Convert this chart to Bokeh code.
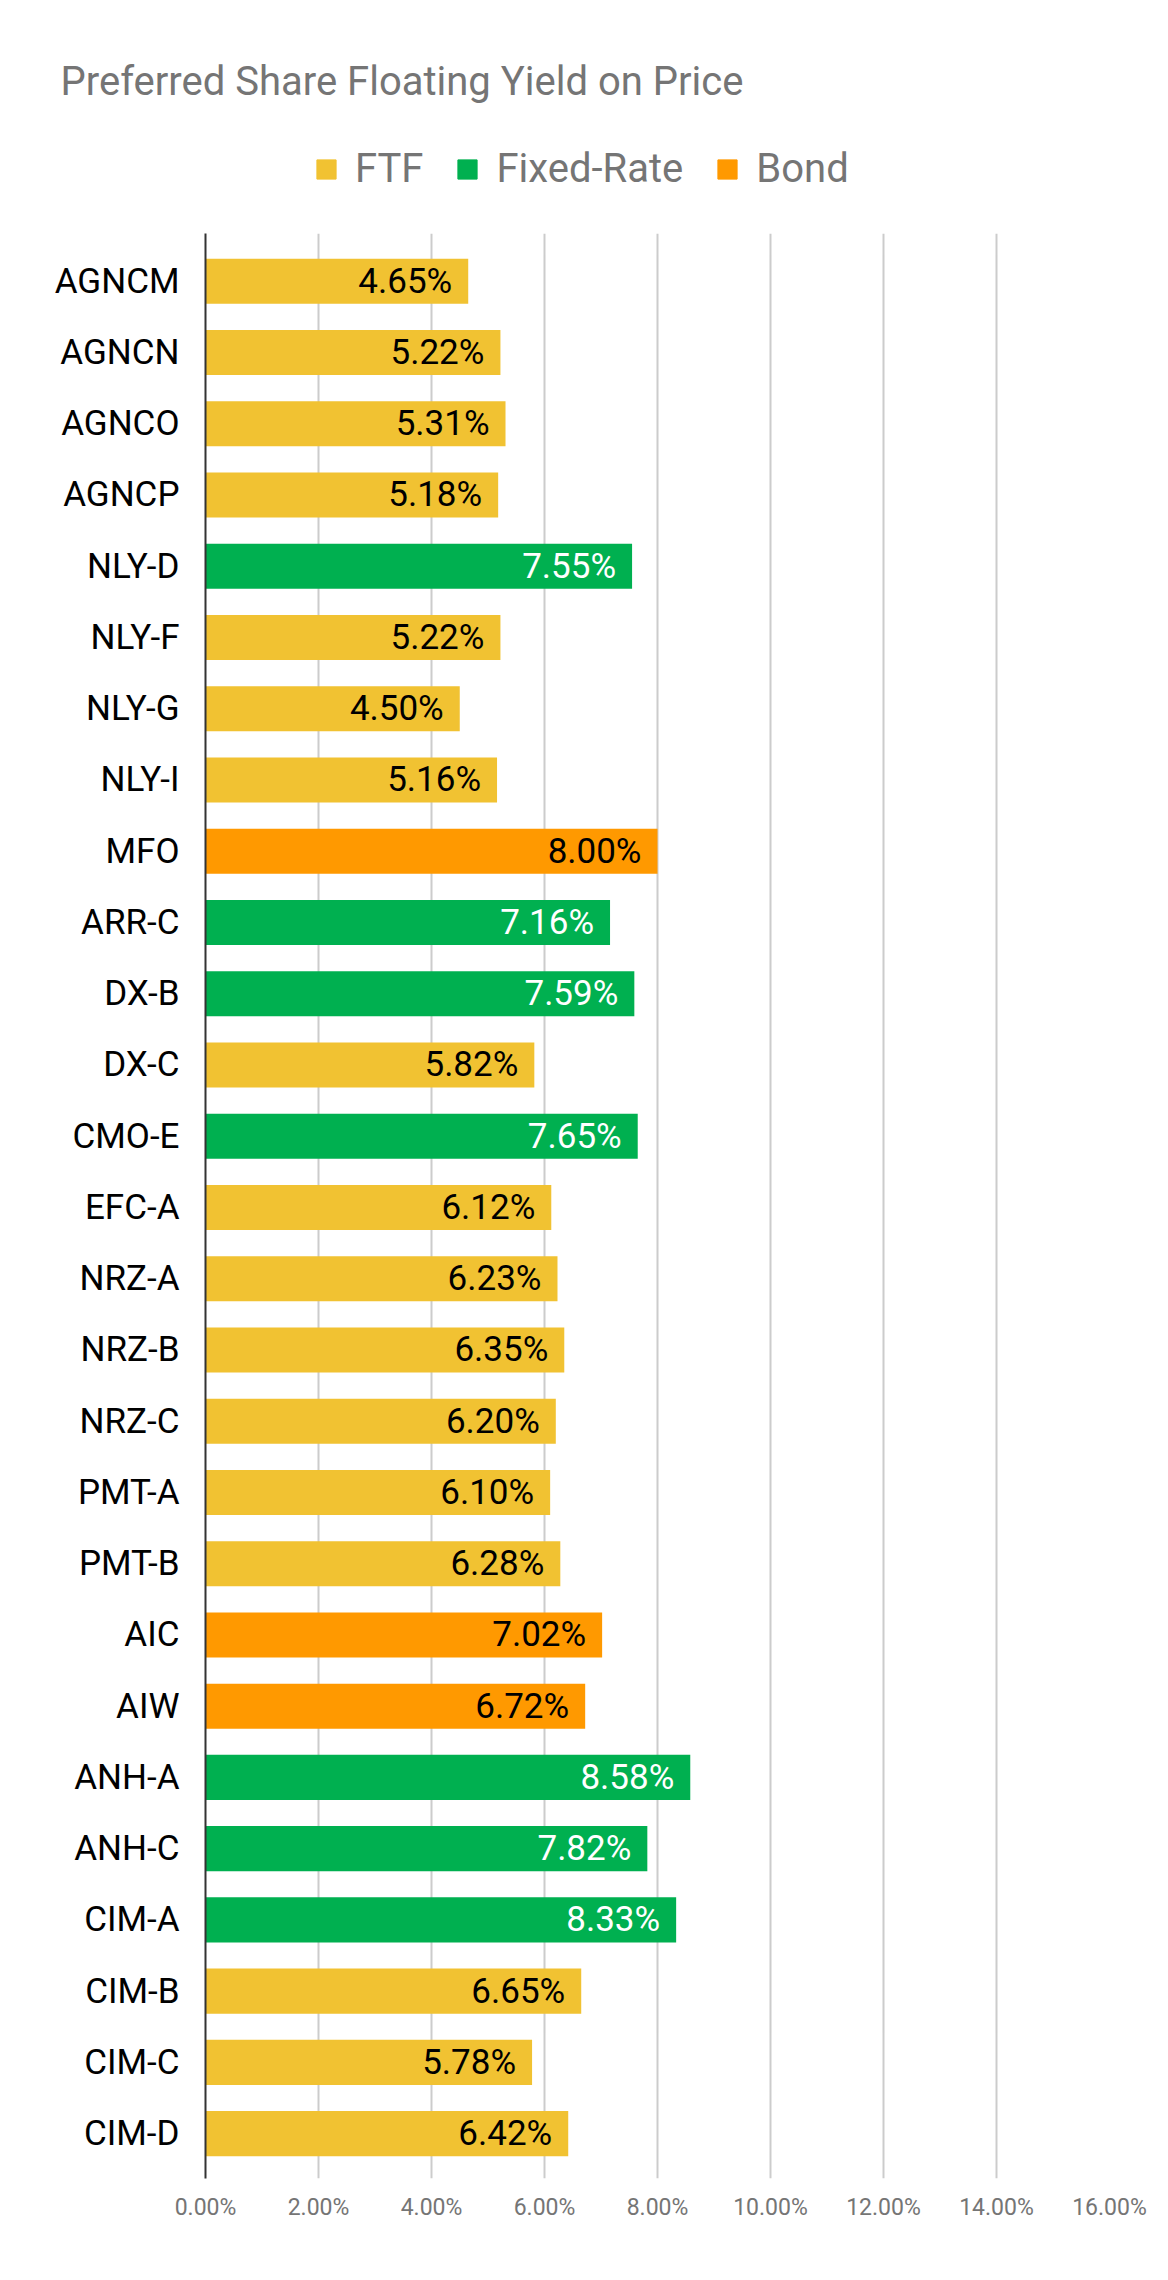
from bokeh.plotting import figure
from bokeh.layouts import column
from bokeh.models import (ColumnDataSource, Range1d, FixedTicker, NumeralTickFormatter,
                          Legend, LegendItem, Title, Spacer)
from bokeh.core.properties import value
from bokeh.embed import file_html
from bokeh.resources import INLINE

# ---------------- data ----------------
title_text = "Preferred Share Floating Yield on Price"
categories = ["AGNCM", "AGNCN", "AGNCO", "AGNCP", "NLY-D", "NLY-F", "NLY-G", "NLY-I",
              "MFO", "ARR-C", "DX-B", "DX-C", "CMO-E", "EFC-A", "NRZ-A", "NRZ-B",
              "NRZ-C", "PMT-A", "PMT-B", "AIC", "AIW", "ANH-A", "ANH-C", "CIM-A",
              "CIM-B", "CIM-C", "CIM-D"]
yields_pct = [4.65, 5.22, 5.31, 5.18, 7.55, 5.22, 4.50, 5.16,
              8.00, 7.16, 7.59, 5.82, 7.65, 6.12, 6.23, 6.35,
              6.20, 6.10, 6.28, 7.02, 6.72, 8.58, 7.82, 8.33,
              6.65, 5.78, 6.42]
types = ["FTF", "FTF", "FTF", "FTF", "Fixed-Rate", "FTF", "FTF", "FTF",
         "Bond", "Fixed-Rate", "Fixed-Rate", "FTF", "Fixed-Rate", "FTF", "FTF", "FTF",
         "FTF", "FTF", "FTF", "Bond", "Bond", "Fixed-Rate", "Fixed-Rate", "Fixed-Rate",
         "FTF", "FTF", "FTF"]
series_names = ["FTF", "Fixed-Rate", "Bond"]
series_colors = {"FTF": "#f1c232", "Fixed-Rate": "#00b050", "Bond": "#ff9900"}
label_colors = {"FTF": "#000000", "Fixed-Rate": "#ffffff", "Bond": "#000000"}
x_ticks = [0.00, 0.02, 0.04, 0.06, 0.08, 0.10, 0.12, 0.14, 0.16]

W = 1168
TOP_GAP = 57
HEAD_H = 233 - TOP_GAP
MAIN_H = 2280 - 233

# ---------------- header (title + legend) ----------------
head = figure(width=W, height=HEAD_H, output_backend="svg", toolbar_location=None,
              x_range=Range1d(0, 1), y_range=Range1d(0, 1),
              x_axis_location=None, y_axis_location=None,
              min_border=0, min_border_left=0, min_border_right=0,
              min_border_top=0, min_border_bottom=0,
              background_fill_color="white", border_fill_color="white")
head.grid.visible = False
head.outline_line_color = None
head.title = Title(text=title_text, align="left", offset=-145, standoff=0,
                   vertical_align="top", text_font="Roboto", text_font_size="40px",
                   text_font_style="normal", text_color="#757575")

# off-screen stand-ins so that the legend can draw its swatches
dummy = {}
for s in series_names:
    dummy[s] = head.hbar(y=[-5000], left=[-5000], right=[-4990], height=1,
                         fill_color=series_colors[s], line_color=series_colors[s])

legend = Legend(items=[LegendItem(label=s, renderers=[dummy[s]]) for s in series_names],
                location=(109, 41), orientation="horizontal",
                glyph_width=24, glyph_height=24, label_standoff=17, spacing=32,
                padding=0, margin=0, border_line_color=None,
                background_fill_alpha=0, label_text_font="Roboto",
                label_text_font_size="40px", label_text_color="#757575")
head.add_layout(legend)

# ---------------- main chart ----------------
p = figure(width=W, height=MAIN_H, output_backend="svg", toolbar_location=None,
           x_range=Range1d(0, 0.16), y_range=Range1d(26.63, -0.67),
           min_border_left=205, min_border_right=59, min_border_top=0,
           min_border_bottom=102, background_fill_color="white",
           border_fill_color="white")
p.outline_line_color = None

idx = list(range(len(categories)))
fracs = [v / 100.0 for v in yields_pct]

for s in series_names:
    sel = [i for i in idx if types[i] == s]
    src = ColumnDataSource(dict(y=sel, right=[fracs[i] for i in sel]))
    p.hbar(y="y", left=0, right="right", height=0.632, source=src,
           fill_color=series_colors[s], line_color=series_colors[s], line_width=0)

lbl_src = ColumnDataSource(dict(
    x=fracs, y=idx,
    text=["{:.2f}%".format(v) for v in yields_pct],
    color=[label_colors[t] for t in types]))
p.text(x="x", y="y", text="text", source=lbl_src, text_align="right",
       text_baseline="middle", x_offset=-16, text_color="color",
       text_font_size="35px", text_font=value("Roboto"))

p.xaxis.ticker = FixedTicker(ticks=x_ticks)
p.xaxis.formatter = NumeralTickFormatter(format="0.00%")
p.xaxis.axis_line_color = None
p.xaxis.major_tick_line_color = None
p.xaxis.minor_tick_line_color = None
p.xaxis.major_label_text_font = "Roboto"
p.xaxis.major_label_text_font_size = "23px"
p.xaxis.major_label_text_color = "#757575"
p.xaxis.major_label_standoff = 9

p.yaxis.ticker = FixedTicker(ticks=idx)
p.yaxis.major_label_overrides = {i: c for i, c in zip(idx, categories)}
p.yaxis.axis_line_color = "#333333"
p.yaxis.axis_line_width = 2
p.yaxis.major_tick_line_color = None
p.yaxis.minor_tick_line_color = None
p.yaxis.major_label_text_font = "Roboto"
p.yaxis.major_label_text_font_size = "35px"
p.yaxis.major_label_text_color = "#000000"
p.yaxis.major_label_standoff = 20

p.xgrid.ticker = FixedTicker(ticks=x_ticks[1:])
p.xgrid.grid_line_color = "#cccccc"
p.xgrid.grid_line_width = 2
p.ygrid.grid_line_color = None

layout = column(Spacer(width=W, height=TOP_GAP), head, p, spacing=0)
open("out.html", "w").write(file_html(layout, INLINE))
